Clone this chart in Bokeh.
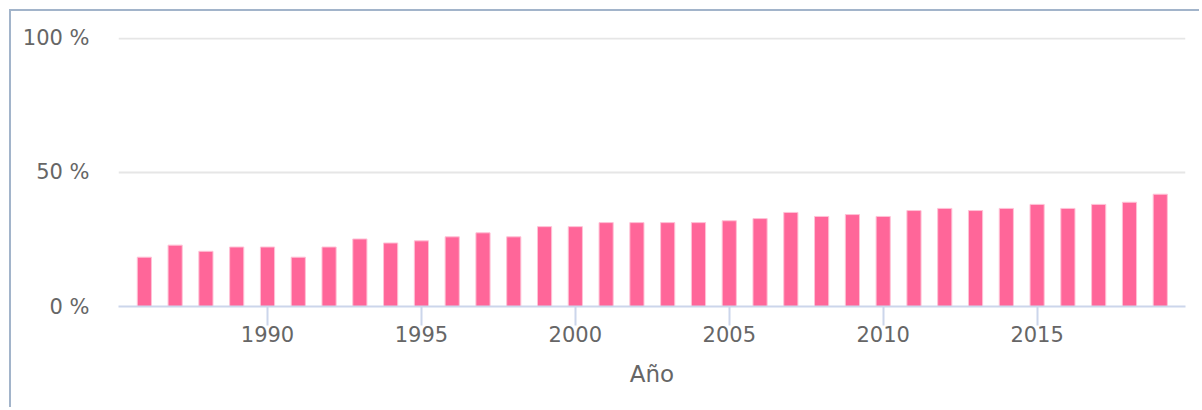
from bokeh.plotting import figure
from bokeh.models import FixedTicker, Range1d
from bokeh.embed import file_html
from bokeh.resources import INLINE

years = list(range(1986, 2020))
values = [18.4, 22.9, 20.6, 22.2, 22.2, 18.4, 22.2, 25.2, 23.7, 24.5,
          26.0, 27.5, 26.0, 29.8, 29.8, 31.3, 31.3, 31.3, 31.3, 32.0,
          32.8, 35.1, 33.6, 34.3, 33.6, 35.8, 36.6, 35.8, 36.6, 38.1,
          36.6, 38.1, 38.9, 41.9]
x_ticks = [1990, 1995, 2000, 2005, 2010, 2015]
y_ticks = [0, 50, 100]
y_labels = {0: "0 %", 50: "50 %", 100: "100 %"}
x_title = "Año"

FONT = "DejaVu Sans"
TXT = "#666666"

p = figure(width=1190, height=398, output_backend="svg", toolbar_location=None,
           x_range=Range1d(1985.16, 2019.82), y_range=Range1d(0, 100.37),
           min_border_left=107, min_border_right=16, min_border_top=26,
           min_border_bottom=103)
p.margin = (9, 0, 0, 9)
p.styles = {"border-top": "2px solid #a2b4ca", "border-left": "2px solid #a2b4ca"}

p.vbar(x=years, top=values, width=0.46, bottom=0,
       fill_color="#ff6699", line_color="#ffc2d6", line_width=1)

p.outline_line_color = None
p.xgrid.grid_line_color = None
p.ygrid.ticker = FixedTicker(ticks=y_ticks)
p.ygrid.grid_line_color = "#e6e6e6"
p.ygrid.grid_line_width = 2

xa = p.xaxis[0]
xa.ticker = FixedTicker(ticks=x_ticks)
xa.axis_line_color = "#ccd6eb"
xa.axis_line_width = 2
xa.major_tick_line_color = "#ccd6eb"
xa.major_tick_line_width = 2
xa.major_tick_out = 19
xa.major_tick_in = 0
xa.minor_tick_line_color = None
xa.major_label_text_font = FONT
xa.major_label_text_font_size = "21px"
xa.major_label_text_color = TXT
xa.major_label_standoff = 0
xa.axis_label = x_title
xa.axis_label_text_font = FONT
xa.axis_label_text_font_size = "23px"
xa.axis_label_text_font_style = "normal"
xa.axis_label_text_color = TXT
xa.axis_label_standoff = 16

ya = p.yaxis[0]
ya.ticker = FixedTicker(ticks=y_ticks)
ya.major_label_overrides = y_labels
ya.axis_line_color = None
ya.major_tick_line_color = None
ya.minor_tick_line_color = None
ya.major_tick_out = 0
ya.major_tick_in = 0
ya.major_label_standoff = 29
ya.major_label_text_font = FONT
ya.major_label_text_font_size = "21px"
ya.major_label_text_color = TXT

open("out.html", "w").write(file_html(p, INLINE))
